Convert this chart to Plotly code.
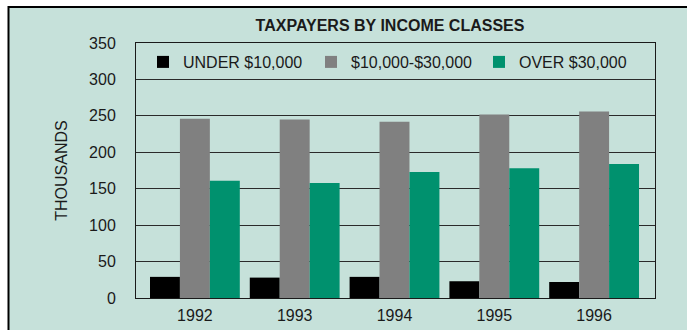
import plotly.graph_objects as go

# Taxpayer counts (thousands) by income class
years = ["1992", "1993", "1994", "1995", "1996"]
under_10k = [29, 28, 29, 23, 22]
mid_10k_30k = [246, 245, 242, 252, 256]
over_30k = [161, 158, 173, 178, 184]

series_names = ["UNDER $10,000", "$10,000-$30,000", "OVER $30,000"]
series_colors = ["#000000", "#808080", "#00916E"]

PANEL = "#C6E1DA"
FONT = "Liberation Sans, Arial, sans-serif"
TXT = "#1a1a1a"

W, H = 687, 330
ML, MR, MT, MB = 136, 32, 43, 32
PW, PH = W - ML - MR, H - MT - MB

fig = go.Figure()
for name, vals, col in zip(series_names, [under_10k, mid_10k_30k, over_30k], series_colors):
    fig.add_trace(go.Bar(x=years, y=vals, name=name, marker_color=col, marker_line_width=0))

# panel frame behind the chart (paper coords relative to plot area)
fig.add_shape(type="rect", xref="paper", yref="paper", layer="below",
              x0=(8.5 - ML) / PW, x1=(W + 20 - ML) / PW,
              y0=-(H + 20 - (H - MB)) / PH, y1=(H - MB - 7) / PH,
              fillcolor=PANEL, line=dict(color="#000000", width=2))

fig.update_layout(
    width=W, height=H,
    margin=dict(l=ML, r=MR, t=MT, b=MB, autoexpand=False),
    paper_bgcolor="white", plot_bgcolor=PANEL,
    barmode="group", bargap=0.1, bargroupgap=0,
    font=dict(family=FONT, size=16, color=TXT),
    title=dict(text="<b>TAXPAYERS BY INCOME CLASSES</b>", x=390 / W, xref="container",
               xanchor="center", y=1 - 25 / H, yanchor="middle",
               font=dict(family=FONT, size=16, color=TXT)),
    legend=dict(orientation="h", x=(143 - ML) / PW, xanchor="left",
                y=(H - MB - 62) / PH, yanchor="middle",
                bgcolor="rgba(0,0,0,0)", entrywidth=123, entrywidthmode="pixels",
                font=dict(family=FONT, size=16, color=TXT)),
    showlegend=True,
)
fig.update_xaxes(range=[-0.59, 4.61], showgrid=False, ticks="", showline=True,
                 linecolor=TXT, linewidth=1, mirror=True, ticklabelstandoff=3,
                 automargin=False)
fig.update_yaxes(range=[0, 350], dtick=50, showgrid=True, gridcolor="#2a2a2a", gridwidth=1,
                 ticks="", showline=True, linecolor=TXT, linewidth=1, mirror=True,
                 zeroline=False, ticklabelstandoff=16, automargin=False,
                 title=dict(text="THOUSANDS", standoff=17, font=dict(family=FONT, size=16)))

fig.write_html("out.html")
